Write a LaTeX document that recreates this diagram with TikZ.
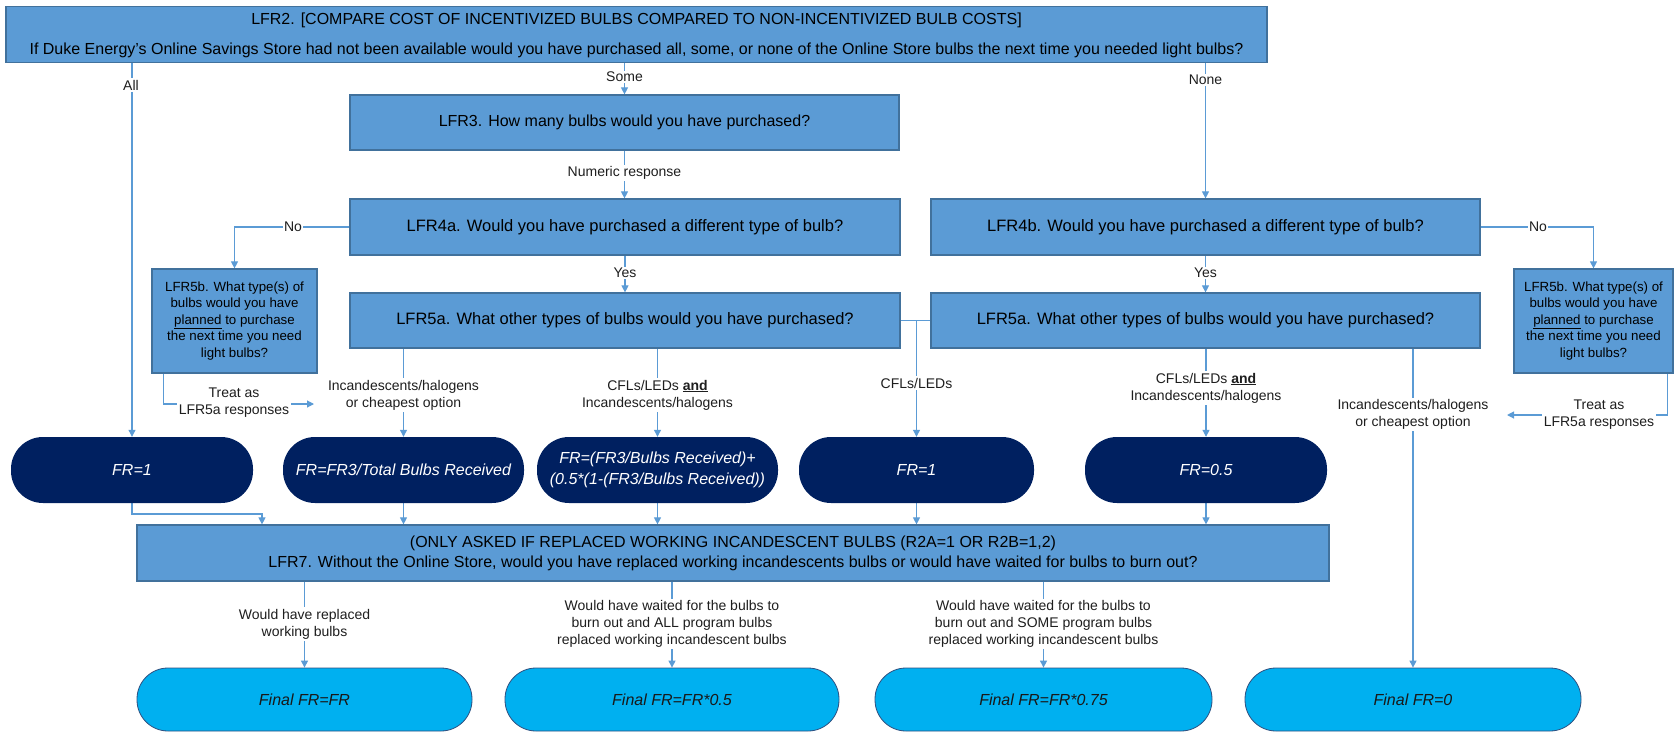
\documentclass[tikz,border=0pt]{standalone}
\usepackage{fontspec}
\setmainfont{Liberation Sans}
\usetikzlibrary{arrows.meta}

\definecolor{boxblue}{HTML}{5B9BD5}
\definecolor{boxline}{HTML}{41719C}
\definecolor{navypill}{HTML}{002060}
\definecolor{cyanpill}{HTML}{00B0F0}
\definecolor{cyanline}{HTML}{2F4F7F}
\definecolor{connblue}{HTML}{5B9BD5}
\definecolor{labelgray}{HTML}{1E1E1E}

\newcommand*\qtext{\fontsize{16}{20}\selectfont}
\newcommand*\qwide{\fontsize{16.5}{20}\selectfont}
\newcommand*\qsmall{\fontsize{13.3}{16.5}\selectfont}
\newcommand*\lbltext{\fontsize{14}{17}\selectfont}
\newcommand*\pilltext{\fontsize{16}{21}\selectfont\itshape}

\pgfdeclarelayer{background}
\pgfsetlayers{background,main}

\tikzset{
  qbox/.style={draw=boxline, fill=boxblue, line width=1.2pt, text=black,
    inner sep=0pt, align=center, font=\qtext},
  navy/.style={fill=navypill, rounded corners=32pt, text=white, inner sep=0pt,
    minimum height=66pt, align=center, font=\pilltext},
  final/.style={fill=cyanpill, draw=cyanline, line width=0.8pt, rounded corners=31pt,
    text=black!90, inner sep=0pt, minimum height=63pt, align=center, font=\pilltext},
  conn/.style={draw=connblue, line width=1.1pt, -{Triangle[length=7pt,width=7pt]}},
  link/.style={draw=connblue, line width=1.1pt},
  lbl/.style={fill=white, inner sep=1.5pt, font=\lbltext, text=labelgray, align=center},
}

\begin{document}
\begin{tikzpicture}[x=1pt,y=-1pt]
\useasboundingbox (0,0) rectangle (1675,733);

% question boxes
\node[qbox, minimum width=1261pt, minimum height=55pt, font=\fontsize{16}{26}\selectfont] (lfr2) at (636.5,34.5)
  {\raisebox{-3pt}{\begin{tabular}{@{}c@{}}LFR2. [COMPARE COST OF INCENTIVIZED BULBS COMPARED TO NON-INCENTIVIZED BULB COSTS]\\[4pt]
   If Duke Energy’s Online Savings Store had not been available would you have purchased all, some, or none of the Online Store bulbs the next time you needed light bulbs?\end{tabular}}};
\node[qbox, minimum width=549pt, minimum height=55pt] (lfr3) at (624.5,122.5)
  {LFR3. How many bulbs would you have purchased?};
\node[qbox, minimum width=550pt, minimum height=56pt, font=\qwide] (lfr4a) at (625,227)
  {LFR4a. Would you have purchased a different type of bulb?};
\node[qbox, minimum width=549pt, minimum height=56pt, font=\qwide] (lfr4b) at (1205.5,227)
  {LFR4b. Would you have purchased a different type of bulb?};
\node[qbox, minimum width=550pt, minimum height=55pt, font=\qwide] (lfr5a) at (625,320.5)
  {LFR5a. What other types of bulbs would you have purchased?};
\node[qbox, minimum width=549pt, minimum height=55pt, font=\qwide] (lfr5ar) at (1205.5,320.5)
  {LFR5a. What other types of bulbs would you have purchased?};
\node[qbox, minimum width=165pt, minimum height=104pt, font=\qsmall] (lfr5bl) at (234.5,321)
  {LFR5b. What type(s) of\\bulbs would you have\\\underline{planned} to purchase\\the next time you need\\light bulbs?};
\node[qbox, minimum width=159pt, minimum height=104pt, font=\qsmall] (lfr5br) at (1593.5,321)
  {LFR5b. What type(s) of\\bulbs would you have\\\underline{planned} to purchase\\the next time you need\\light bulbs?};
\node[qbox, minimum width=1192pt, minimum height=56pt] (lfr7) at (733,553)
  {(ONLY ASKED IF REPLACED WORKING INCANDESCENT BULBS (R2A=1 OR R2B=1,2)\\
   LFR7. Without the Online Store, would you have replaced working incandescents bulbs or would have waited for bulbs to burn out?};

% free-ridership results
\node[navy, minimum width=242pt] (fr1) at (132,470) {FR=1};
\node[navy, minimum width=241pt] (fr2) at (403.5,470) {FR=FR3/Total Bulbs Received};
\node[navy, minimum width=241pt] (fr3) at (657.5,470) {FR=(FR3/Bulbs Received)+\\(0.5*(1-(FR3/Bulbs Received))};
\node[navy, minimum width=235pt] (fr4) at (916.5,470) {FR=1};
\node[navy, minimum width=242pt] (fr5) at (1206,470) {FR=0.5};

% final values
\node[final, minimum width=335pt] (final1) at (304.5,699.5) {Final FR=FR};
\node[final, minimum width=334pt] (final2) at (672,699.5) {Final FR=FR*0.5};
\node[final, minimum width=337pt] (final3) at (1043.5,699.5) {Final FR=FR*0.75};
\node[final, minimum width=336pt] (final4) at (1413,699.5) {Final FR=0};

% connector labels
\node[lbl] (lAll) at (131,85) {All};
\node[lbl] (lSome) at (624.5,77) {Some};
\node[lbl] (lNone) at (1205.5,80) {None};
\node[lbl] (lNum) at (624.5,173) {Numeric response};
\node[lbl, inner xsep=1pt] (lNoL) at (293,227) {No};
\node[lbl, inner xsep=1pt] (lNoR) at (1538,227) {No};
\node[lbl] (lYesL) at (625,273) {Yes};
\node[lbl] (lYesR) at (1205.5,273) {Yes};
\node[lbl] (lIncL) at (403.5,395) {Incandescents/halogens\\or cheapest option};
\node[lbl] (lMixL) at (657.5,395) {CFLs/LEDs \underline{\textbf{and}}\\Incandescents/halogens};
\node[lbl] (lCfl) at (916.5,383) {CFLs/LEDs};
\node[lbl] (lMixR) at (1206,388) {CFLs/LEDs \underline{\textbf{and}}\\Incandescents/halogens};
\node[lbl] (lIncR) at (1413,414.5) {Incandescents/halogens\\or cheapest option};
\node[lbl] (lTreatL) at (234,403) {Treat as\\LFR5a responses};
\node[lbl] (lTreatR) at (1599,414.5) {Treat as\\LFR5a responses};
\node[lbl] (lRep) at (304.5,624) {Would have replaced\\working bulbs};
\node[lbl] (lAllB) at (672,624) {Would have waited for the bulbs to\\burn out and ALL program bulbs\\replaced working incandescent bulbs};
\node[lbl] (lSomeB) at (1043.5,624) {Would have waited for the bulbs to\\burn out and SOME program bulbs\\replaced working incandescent bulbs};

% connector ends and bends
\coordinate (tlEnd) at (314,404);
\coordinate (trEnd) at (1507,415);
\coordinate (bend1) at (262,514);

\begin{pgfonlayer}{background}
  \draw[conn] (lfr2.south -| fr1.north) -- (fr1.north);
  \draw[conn] (lfr2.south -| lfr3.north) -- (lfr3.north);
  \draw[conn] (lfr2.south -| lfr4b.north) -- (lfr4b.north);
  \draw[conn] (lfr3.south) -- (lfr3.south |- lfr4a.north);
  \draw[conn] (lfr4a.west) -| (lfr5bl.north);
  \draw[conn] (lfr4b.east) -| (lfr5br.north);
  \draw[conn] (lfr4a.south) -- (lfr5a.north);
  \draw[conn] (lfr4b.south) -- (lfr5ar.north);
  \draw[conn] (lfr5a.south -| fr2.north) -- (fr2.north);
  \draw[conn] (lfr5a.south -| fr3.north) -- (fr3.north);
  \draw[link] (lfr5a.east) -- (lfr5ar.west);
  \draw[conn] (lfr5a.east -| fr4.north) -- (fr4.north);
  \draw[conn] (lfr5ar.south -| fr5.north) -- (fr5.north);
  \draw[conn] (lfr5ar.south -| final4.north) -- (final4.north);
  \draw[conn] ([xshift=12pt]lfr5bl.south west) |- (tlEnd);
  \draw[conn] ([xshift=-6pt]lfr5br.south east) |- (trEnd);
  \draw[conn] (fr1.south) |- (bend1) -- (bend1 |- lfr7.north);
  \draw[conn] (fr2.south) -- (fr2.south |- lfr7.north);
  \draw[conn] (fr3.south) -- (fr3.south |- lfr7.north);
  \draw[conn] (fr4.south) -- (fr4.south |- lfr7.north);
  \draw[conn] (fr5.south) -- (fr5.south |- lfr7.north);
  \draw[conn] (lfr7.south -| final1.north) -- (final1.north);
  \draw[conn] (lfr7.south -| final2.north) -- (final2.north);
  \draw[conn] (lfr7.south -| final3.north) -- (final3.north);
\end{pgfonlayer}
\end{tikzpicture}
\end{document}
